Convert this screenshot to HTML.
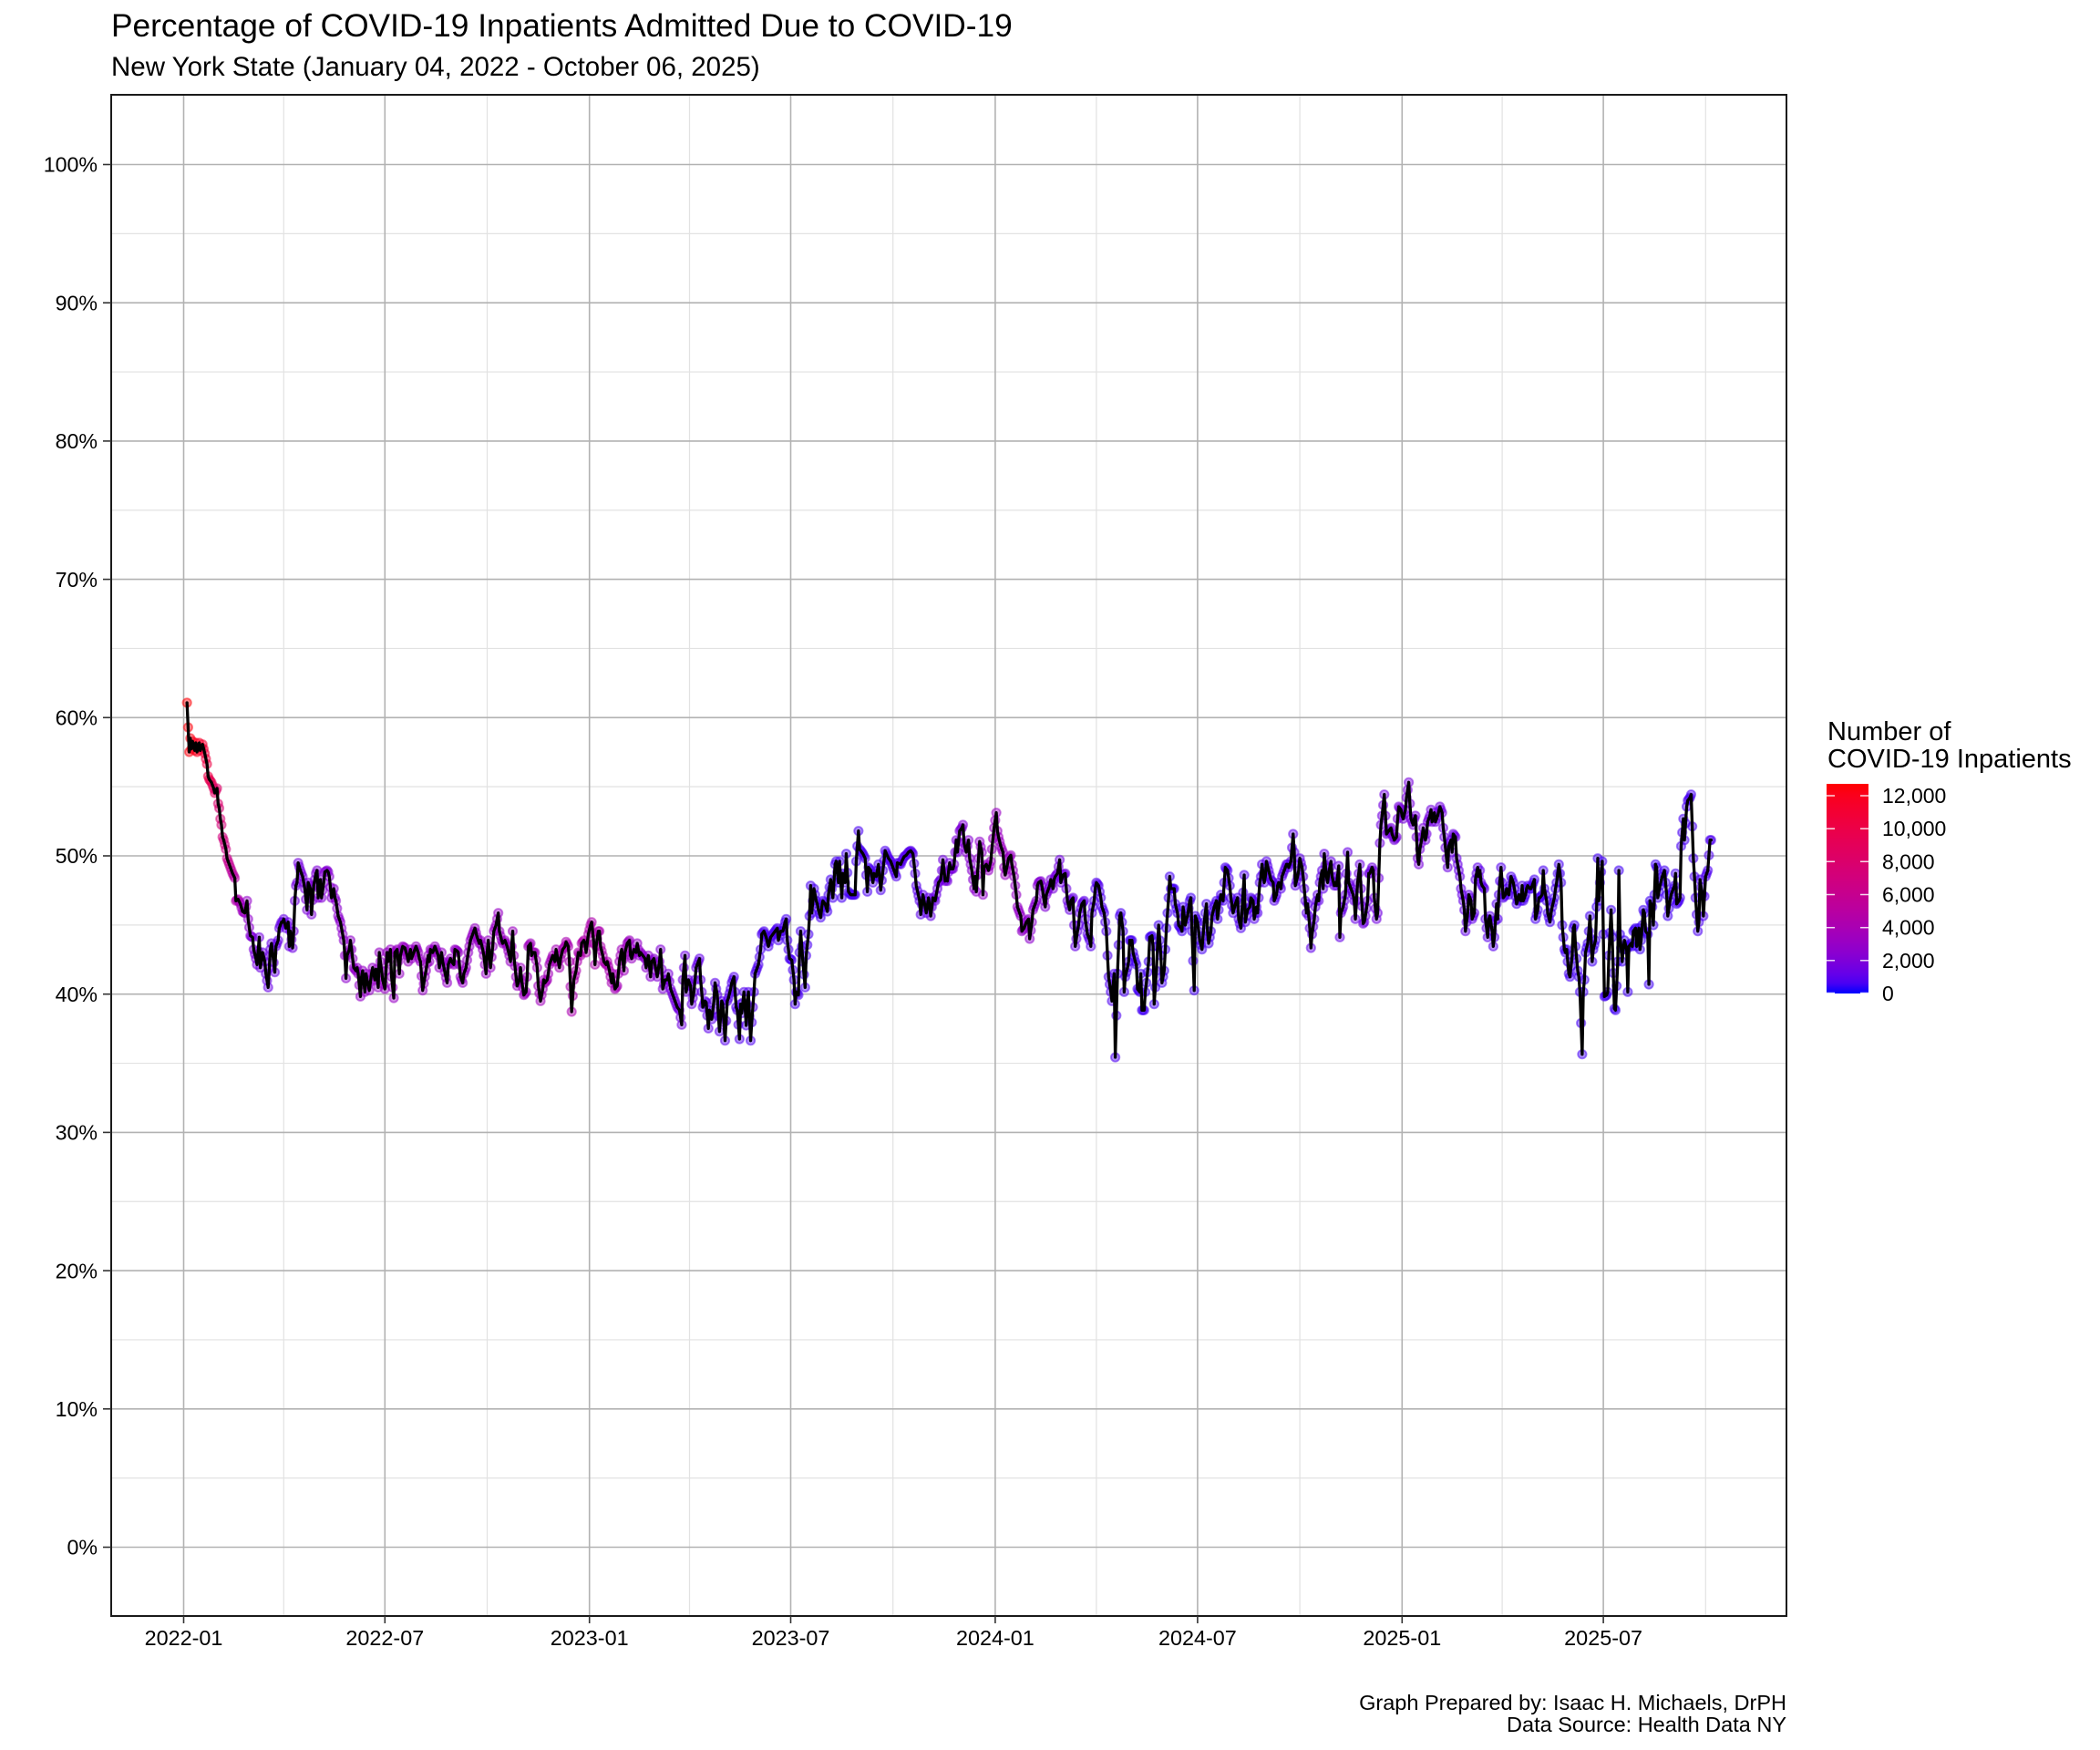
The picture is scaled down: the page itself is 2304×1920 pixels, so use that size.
<!DOCTYPE html>
<html>
<head>
<meta charset="utf-8">
<style>
html,body{margin:0;padding:0;background:#fff;}
svg{display:block;}
text{font-family:"Liberation Sans",Arial,sans-serif;fill:#000;}
</style>
</head>
<body>
<svg id="chart" xmlns="http://www.w3.org/2000/svg" width="2304" height="1920" viewBox="0 0 2304 1920">
<rect x="0" y="0" width="2304" height="1920" fill="#fff"/>
<defs>
<linearGradient id="cbar" x1="0" y1="1" x2="0" y2="0">
<stop offset="0" stop-color="#0000FF"/>
<stop offset="0.25" stop-color="#9A00C3"/>
<stop offset="0.5" stop-color="#CC0088"/>
<stop offset="0.75" stop-color="#E80050"/>
<stop offset="1" stop-color="#FF0000"/>
</linearGradient>
</defs>

<!-- Title -->
<text x="122" y="40" font-size="35.3">Percentage of COVID-19 Inpatients Admitted Due to COVID-19</text>
<text x="122" y="83" font-size="29.5">New York State (January 04, 2022 - October 06, 2025)</text>

<!-- minor gridlines -->
<g stroke="#e2e2e2" stroke-width="1.2">
<line x1="122" x2="1960" y1="1621.65" y2="1621.65"/>
<line x1="122" x2="1960" y1="1469.95" y2="1469.95"/>
<line x1="122" x2="1960" y1="1318.25" y2="1318.25"/>
<line x1="122" x2="1960" y1="1166.55" y2="1166.55"/>
<line x1="122" x2="1960" y1="1014.85" y2="1014.85"/>
<line x1="122" x2="1960" y1="863.15" y2="863.15"/>
<line x1="122" x2="1960" y1="711.45" y2="711.45"/>
<line x1="122" x2="1960" y1="559.75" y2="559.75"/>
<line x1="122" x2="1960" y1="408.05" y2="408.05"/>
<line x1="122" x2="1960" y1="256.35" y2="256.35"/>
<line y1="104" y2="1773" x1="311.3" x2="311.3"/>
<line y1="104" y2="1773" x1="534.5" x2="534.5"/>
<line y1="104" y2="1773" x1="756.5" x2="756.5"/>
<line y1="104" y2="1773" x1="979.7" x2="979.7"/>
<line y1="104" y2="1773" x1="1202.9" x2="1202.9"/>
<line y1="104" y2="1773" x1="1426.1" x2="1426.1"/>
<line y1="104" y2="1773" x1="1648.1" x2="1648.1"/>
<line y1="104" y2="1773" x1="1871.3" x2="1871.3"/>
</g>
<!-- major gridlines -->
<g stroke="#b2b2b2" stroke-width="1.6">
<line x1="122" x2="1960" y1="1697.5" y2="1697.5"/>
<line x1="122" x2="1960" y1="1545.8" y2="1545.8"/>
<line x1="122" x2="1960" y1="1394.1" y2="1394.1"/>
<line x1="122" x2="1960" y1="1242.4" y2="1242.4"/>
<line x1="122" x2="1960" y1="1090.7" y2="1090.7"/>
<line x1="122" x2="1960" y1="939" y2="939"/>
<line x1="122" x2="1960" y1="787.3" y2="787.3"/>
<line x1="122" x2="1960" y1="635.6" y2="635.6"/>
<line x1="122" x2="1960" y1="483.9" y2="483.9"/>
<line x1="122" x2="1960" y1="332.2" y2="332.2"/>
<line x1="122" x2="1960" y1="180.5" y2="180.5"/>
<line y1="104" y2="1773" x1="201.5" x2="201.5"/>
<line y1="104" y2="1773" x1="422.3" x2="422.3"/>
<line y1="104" y2="1773" x1="646.7" x2="646.7"/>
<line y1="104" y2="1773" x1="867.5" x2="867.5"/>
<line y1="104" y2="1773" x1="1091.9" x2="1091.9"/>
<line y1="104" y2="1773" x1="1313.9" x2="1313.9"/>
<line y1="104" y2="1773" x1="1538.3" x2="1538.3"/>
<line y1="104" y2="1773" x1="1759.1" x2="1759.1"/>
</g>

<!-- data -->
<g id="pts"></g>
<polyline id="ln" fill="none" stroke="#000" stroke-width="3.3" stroke-linejoin="round" stroke-linecap="round" points=""/>

<!-- panel border -->
<rect x="122" y="104" width="1838" height="1669" fill="none" stroke="#1a1a1a" stroke-width="2"/>

<!-- ticks -->
<g stroke="#333" stroke-width="1.6">
<line x1="113" x2="122" y1="1697.5" y2="1697.5"/>
<line x1="113" x2="122" y1="1545.8" y2="1545.8"/>
<line x1="113" x2="122" y1="1394.1" y2="1394.1"/>
<line x1="113" x2="122" y1="1242.4" y2="1242.4"/>
<line x1="113" x2="122" y1="1090.7" y2="1090.7"/>
<line x1="113" x2="122" y1="939" y2="939"/>
<line x1="113" x2="122" y1="787.3" y2="787.3"/>
<line x1="113" x2="122" y1="635.6" y2="635.6"/>
<line x1="113" x2="122" y1="483.9" y2="483.9"/>
<line x1="113" x2="122" y1="332.2" y2="332.2"/>
<line x1="113" x2="122" y1="180.5" y2="180.5"/>
<line y1="1773" y2="1781" x1="201.5" x2="201.5"/>
<line y1="1773" y2="1781" x1="422.3" x2="422.3"/>
<line y1="1773" y2="1781" x1="646.7" x2="646.7"/>
<line y1="1773" y2="1781" x1="867.5" x2="867.5"/>
<line y1="1773" y2="1781" x1="1091.9" x2="1091.9"/>
<line y1="1773" y2="1781" x1="1313.9" x2="1313.9"/>
<line y1="1773" y2="1781" x1="1538.3" x2="1538.3"/>
<line y1="1773" y2="1781" x1="1759.1" x2="1759.1"/>
</g>
<g font-size="23.2" text-anchor="end">
<text x="107" y="1705.7">0%</text>
<text x="107" y="1554">10%</text>
<text x="107" y="1402.3">20%</text>
<text x="107" y="1250.6">30%</text>
<text x="107" y="1098.9">40%</text>
<text x="107" y="947.2">50%</text>
<text x="107" y="795.5">60%</text>
<text x="107" y="643.8">70%</text>
<text x="107" y="492.1">80%</text>
<text x="107" y="340.4">90%</text>
<text x="107" y="188.7">100%</text>
</g>
<g font-size="23.4" text-anchor="middle">
<text x="201.5" y="1805">2022-01</text>
<text x="422.3" y="1805">2022-07</text>
<text x="646.7" y="1805">2023-01</text>
<text x="867.5" y="1805">2023-07</text>
<text x="1091.9" y="1805">2024-01</text>
<text x="1313.9" y="1805">2024-07</text>
<text x="1538.3" y="1805">2025-01</text>
<text x="1759.1" y="1805">2025-07</text>
</g>

<!-- caption -->
<g font-size="23.5" text-anchor="end">
<text x="1960" y="1876">Graph Prepared by: Isaac H. Michaels, DrPH</text>
<text x="1960" y="1900">Data Source: Health Data NY</text>
</g>

<!-- legend -->
<text x="2005" y="812" font-size="29">Number of</text>
<text x="2005" y="842" font-size="29">COVID-19 Inpatients</text>
<rect id="cbarRect" x="2004" y="860" width="46" height="230" fill="url(#cbar)"/>
<g stroke="#fff" stroke-width="1.5" opacity="0.85">
<line x1="2004" x2="2013" y1="873" y2="873"/><line x1="2041" x2="2050" y1="873" y2="873"/>
<line x1="2004" x2="2013" y1="909.2" y2="909.2"/><line x1="2041" x2="2050" y1="909.2" y2="909.2"/>
<line x1="2004" x2="2013" y1="945.3" y2="945.3"/><line x1="2041" x2="2050" y1="945.3" y2="945.3"/>
<line x1="2004" x2="2013" y1="981.5" y2="981.5"/><line x1="2041" x2="2050" y1="981.5" y2="981.5"/>
<line x1="2004" x2="2013" y1="1017.7" y2="1017.7"/><line x1="2041" x2="2050" y1="1017.7" y2="1017.7"/>
<line x1="2004" x2="2013" y1="1053.8" y2="1053.8"/><line x1="2041" x2="2050" y1="1053.8" y2="1053.8"/>
<line x1="2004" x2="2013" y1="1089.5" y2="1089.5"/><line x1="2041" x2="2050" y1="1089.5" y2="1089.5"/>
</g>
<g font-size="23">
<text x="2065" y="881">12,000</text>
<text x="2065" y="917.2">10,000</text>
<text x="2065" y="953.3">8,000</text>
<text x="2065" y="989.5">6,000</text>
<text x="2065" y="1025.7">4,000</text>
<text x="2065" y="1061.8">2,000</text>
<text x="2065" y="1098">0</text>
</g>
</svg>

<script>
(function(){
var Z=[
[195,[[33,48],[37,210],[40,165],[45,200],[50,175],[55,205],[60,180],[65,210],[70,180],[75,205],[80,185],[88,215],[95,250],[98,290],[105,300],[112,310],[118,330],[122,345],[128,330],[133,380],[138,395],[140,430],[145,450],[148,490],[153,500],[158,530],[162,560],[168,580],[175,590],[182,610],[188,625],[192,700],[200,695],[205,710],[212,735],[220,740],[228,700],[232,760],[240,815],[245,820],[250,860],[258,890],[262,910],[268,820],[272,920],[278,870],[285,900],[290,940],[297,985],[305,860],[310,840],[318,935],[322,850],[330,830],[335,790],[340,770],[345,770],[350,760],[357,790],[362,770],[367,850],[372,800],[377,855],[380,800],[385,700],[390,650],[393,640],[398,575],[405,600],[410,620],[418,660],[424,730],[430,640],[437,660],[442,745],[448,650],[455,610],[460,600],[464,690],[470,630],[475,690],[480,640],[485,605],[490,600],[495,605],[500,620],[505,690],[512,660],[518,690],[522,700],[528,750],[535,770],[540,790],[545,830],[550,880],[553,955],[558,880],[565,860],[570,830],[575,890],[580,920],[585,930],[590,920],[595,940],[600,1015],[605,950],[610,930],[615,1000],[620,940],[625,960],[632,995],[637,940],[642,920],[648,960],[653,925],[660,985],[664,870],[670,930],[676,960],[683,990],[688,870],[694,900],[700,860],[705,950],[710,1020],[716,870],[722,860],[728,940],[733,880],[740,850],[748,855],[755,880],[760,900],[765,860],[770,890],[778,870],[785,850],[790,870],[795,890],[800,900],[806,995],[812,950],[818,930],[823,880],[828,900],[833,860],[840,870],[848,850]]],
[480,[[3,880],[7,920],[12,870],[18,900],[25,935],[30,970],[35,910],[42,890],[48,900],[52,910],[58,860],[65,865],[70,870],[75,950],[82,970],[88,940],[95,920],[100,870],[105,850],[110,830],[118,800],[123,790],[130,820],[137,840],[142,830],[148,860],[152,880],[158,940],[162,870],[168,830],[175,920],[180,850],[185,800],[192,780],[200,740],[205,800],[210,830],[215,840],[222,830],[228,850],[235,880],[240,900],[248,800],[252,880],[258,950],[263,980],[268,960],[272,920],[278,960],[283,1010],[290,1000],[295,950],[300,850],[305,840],[310,880],[315,870],[322,870],[328,920],[333,980],[338,1030],[345,990],[350,960],[355,970],[360,960],[365,940],[370,910],[378,880],[385,900],[390,860],[395,880],[400,920],[405,890],[412,860],[418,850],[425,835],[430,850],[435,900],[442,1065],[448,960],[455,930],[460,900],[465,870],[470,880],[476,840],[480,830],[486,840],[490,870],[495,810],[502,780],[508,770],[513,840],[518,910],[523,850],[528,800],[532,800],[538,850],[543,880],[548,900],[555,910],[560,900],[566,930],[572,970],[578,940],[584,990],[590,980],[595,940],[600,900],[605,860],[612,930],[618,870],[625,840],[630,830],[635,880],[640,890],[646,860],[652,870],[658,840],[664,880],[670,870],[676,880],[682,890],[688,920],[695,880],[700,950],[706,900],[712,890],[718,930],[723,950],[730,900],[736,860],[742,990],[748,960],[755,960],[760,940],[768,990],[775,1010],[782,1030],[790,1050],[798,1060],[802,1108],[808,960],[814,880],[820,1000],[826,960],[832,980],[838,1040],[845,1000],[852,920]]],
[765,[[3,900],[6,890],[10,960],[15,1000],[20,1050],[25,1030],[30,1035],[37,1120],[42,1060],[48,1090],[55,1030],[60,970],[65,1010],[70,1080],[75,1130],[80,1030],[85,1040],[92,1160],[97,1030],[102,1020],[110,990],[115,970],[122,950],[127,1050],[133,1060],[138,1155],[143,1040],[148,1070],[152,1000],[156,1050],[160,1110],[165,1040],[170,1000],[175,1160],[180,1100],[185,1000],[190,940],[196,920],[203,910],[208,860],[213,810],[220,800],[228,820],[235,850],[240,820],[248,810],[255,800],[262,790],[268,830],[275,800],[282,800],[288,770],[292,760],[297,830],[303,890],[312,895],[318,960],[322,1040],[327,1000],[332,1010],[338,870],[342,800],[348,900],[354,985],[360,880],[365,810],[369,750],[372,650],[378,740],[385,660],[390,700],[395,710],[400,730],[405,755],[410,720],[415,700],[420,710],[428,735],[432,680],[438,630],[445,690],[452,580],[458,570],[463,640],[468,570],[475,690],[480,610],[485,640],[492,545],[498,670],[505,680],[512,680],[518,680],[525,570],[530,470],[535,530],[545,545],[552,560],[560,670],[565,590],[570,600],[578,640],[582,610],[590,620],[598,580],[605,665],[612,600],[620,535],[628,560],[635,570],[640,580],[648,600],[655,620],[660,575],[668,580],[675,570],[680,555],[688,550],[695,540],[702,535],[710,545],[716,610],[722,650],[730,700],[736,745],[742,680],[748,700],[755,740],[762,690],[768,750],[775,690],[782,700],[790,660],[795,640],[800,630],[805,600],[810,565],[815,635],[820,630],[825,635],[830,575],[835,595],[840,595],[845,580],[852,500]]],
[1050,[[3,540],[8,470],[15,460],[20,450],[25,510],[30,540],[36,500],[42,560],[48,600],[55,660],[60,620],[65,670],[70,560],[76,505],[80,540],[85,680],[90,590],[95,580],[100,590],[105,600],[110,570],[115,530],[122,460],[128,410],[133,470],[138,490],[145,520],[150,540],[155,590],[160,615],[165,580],[170,560],[178,550],[182,580],[188,620],[195,680],[200,720],[205,740],[210,750],[215,800],[222,790],[228,770],[235,760],[240,825],[245,770],[250,730],[255,720],[260,700],[265,650],[270,640],[275,635],[280,650],[285,700],[290,720],[295,680],[300,660],[305,650],[310,630],[315,660],[320,630],[325,620],[330,610],[338,565],[342,640],[348,615],[355,610],[360,660],[365,700],[370,730],[375,700],[380,690],[385,780],[390,850],[395,800],[400,780],[405,740],[410,710],[418,700],[422,760],[428,810],[435,830],[440,850],[445,740],[450,700],[455,660],[460,640],[465,650],[472,690],[478,720],[485,740],[490,800],[495,880],[500,950],[505,1000],[510,1030],[515,980],[518,940],[522,1215],[528,940],[535,750],[540,740],[545,800],[548,1000],[555,950],[560,920],[565,900],[570,830],[575,830],[580,870],[585,900],[590,910],[595,990],[600,1000],[605,940],[610,1060],[615,1060],[620,1000],[625,970],[630,900],[635,820],[640,815],[645,850],[650,1040],[655,930],[660,850],[665,780],[670,880],[675,970],[680,930],[688,790],[695,690],[700,620],[705,660],[710,660],[715,660],[720,710],[725,740],[730,780],[735,790],[740,800],[745,720],[750,780],[755,760],[760,750],[765,700],[770,690],[775,800],[779,995],[785,750],[790,770],[795,800],[800,830],[808,860],[815,770],[820,710],[825,800],[830,840],[835,800],[840,750],[845,720],[852,700]]],
[1335,[[3,760],[6,730],[10,700],[15,680],[20,700],[25,640],[28,590],[35,600],[42,650],[48,690],[55,740],[62,710],[68,690],[72,760],[78,790],[83,730],[90,615],[95,770],[100,730],[107,720],[112,690],[118,700],[124,760],[130,720],[136,740],[140,640],[145,620],[150,580],[155,640],[160,620],[165,570],[170,600],[178,630],[184,640],[190,700],[195,680],[200,650],[205,640],[210,660],[215,620],[222,600],[228,580],[232,580],[238,590],[244,570],[250,480],[255,540],[260,650],[265,620],[270,600],[275,560],[280,590],[285,620],[290,700],[295,740],[300,710],[305,790],[310,855],[315,810],[320,760],[325,720],[330,680],[335,700],[340,640],[345,600],[350,660],[355,545],[360,620],[365,640],[370,610],[375,570],[380,620],[385,650],[390,640],[395,650],[400,585],[405,820],[410,740],[415,720],[420,700],[425,680],[430,540],[435,640],[440,660],[448,680],[453,700],[458,760],[465,640],[470,580],[475,660],[480,775],[485,770],[490,750],[495,700],[500,610],[505,610],[510,590],[515,600],[520,690],[525,760],[530,740],[535,510],[540,450],[545,420],[550,350],[555,420],[560,480],[565,470],[572,460],[578,480],[585,500],[590,490],[596,430],[600,390],[605,400],[610,420],[615,430],[620,400],[625,360],[630,310],[635,380],[640,430],[645,450],[650,430],[655,420],[660,560],[665,580],[670,530],[675,490],[680,460],[686,500],[690,480],[695,440],[700,420],[705,400],[710,440],[715,410],[720,440],[728,420],[735,390],[740,410],[745,460],[750,490],[755,560],[760,590],[765,520],[770,500],[775,540],[780,480],[786,490],[790,560],[795,600],[800,620],[805,660],[810,700],[815,730],[820,800],[825,740],[830,680],[835,700],[840,760],[848,740],[852,630]]],
[1620,[[3,590],[5,620],[10,600],[15,640],[20,650],[25,660],[30,760],[35,820],[40,760],[45,750],[50,800],[55,850],[60,820],[65,710],[70,760],[75,680],[82,590],[88,690],[95,680],[100,660],[105,680],[110,650],[115,620],[120,640],[125,660],[130,710],[135,700],[140,680],[145,700],[150,650],[155,700],[160,680],[165,660],[170,650],[175,660],[180,660],[185,640],[190,630],[195,760],[200,730],[205,690],[210,690],[215,680],[220,600],[225,660],[230,700],[235,740],[240,770],[245,740],[250,720],[255,690],[260,660],[265,640],[272,580],[278,640],[283,780],[288,860],[293,870],[298,860],[303,940],[308,950],[313,880],[318,790],[322,780],[327,850],[332,930],[337,950],[342,1000],[346,1205],[350,1000],[355,960],[360,870],[365,840],[370,800],[375,750],[380,900],[385,860],[390,830],[395,720],[398,560],[403,700],[408,640],[412,570],[418,810],[422,1015],[428,1010],[433,1000],[437,880],[442,730],[447,820],[452,1055],[458,1060],[463,900],[468,600],[473,810],[478,900],[484,860],[488,830],[493,860],[498,1000],[502,850],[508,840],[512,850],[517,800],[522,790],[528,850],[533,790],[538,860],[543,830],[548,730],[553,740],[558,800],[563,810],[567,975],[572,700],[577,720],[582,780],[588,580],[593,590],[598,690],[603,650],[610,620],[618,600],[624,680],[630,750],[636,700],[642,680],[650,650],[655,610],[660,710],[665,700],[670,690],[675,520],[680,430],[686,500],[692,390],[697,370],[702,360],[707,350],[712,560],[717,620],[722,690],[727,800],[732,770],[737,630],[742,680],[747,750],[752,620],[760,600],[770,500]]]
];
var V=[];
Z.forEach(function(s){var x0=s[0];s[1].forEach(function(p){V.push([x0+p[0]/3,755+p[1]/3]);});});
V.sort(function(a,b){return a[0]-b[0];});
var val={},last=-1;
V.forEach(function(p){
  var d=Math.round((p[0]-201.5)/1.2197);
  if(last<0) d=3;
  if(d<=last) d=last+1;
  if(d>1374) d=1374;
  val[d]=p[1]; last=d;
});
var days=Object.keys(val).map(Number).sort(function(a,b){return a-b;});
var Y=[];
for(var i=0;i<days.length-1;i++){
  var d1=days[i],d2=days[i+1];
  for(var d=d1;d<d2;d++) Y[d]=val[d1]+(val[d2]-val[d1])*(d-d1)/(d2-d1);
}
var lastD=days[days.length-1];
Y[lastD]=val[lastD];
for(var d=lastD+1;d<=1374;d++) Y[d]=val[lastD];

var C=[[3,12600],[8,12200],[15,11500],[22,10000],[30,8200],[38,6500],[46,4800],[54,3300],[62,2000],[72,1300],[90,1200],[110,1800],[135,2400],[160,2900],[200,3100],[240,2900],[290,3100],[330,3700],[360,4400],[380,4200],[410,2800],[440,1700],[470,1000],[520,650],[600,550],[660,900],[700,2000],[725,3100],[740,3300],[760,2600],[790,1500],[820,800],[860,500],[920,550],[980,900],[1040,1200],[1090,1700],[1110,1800],[1150,1200],[1200,650],[1260,500],[1320,450],[1374,700]];
function cnt(d){
  if(d<=C[0][0]) return C[0][1];
  for(var i=1;i<C.length;i++){ if(C[i][0]>=d){ var a=C[i-1],b=C[i]; return a[1]+(b[1]-a[1])*(d-a[0])/(b[0]-a[0]); } }
  return C[C.length-1][1];
}
var LB=[32.30,79.19,-107.86], LR=[53.24,80.09,67.20];
function col(f){
  f=Math.max(0,Math.min(1,f));
  var L=LB[0]+(LR[0]-LB[0])*f, A=LB[1]+(LR[1]-LB[1])*f, B=LB[2]+(LR[2]-LB[2])*f;
  var fy=(L+16)/116, fx=fy+A/500, fz=fy-B/200;
  function fi(t){var t3=t*t*t; return t3>0.008856?t3:(t-16/116)/7.787;}
  var X=0.95047*fi(fx), Yv=fi(fy), Zv=1.08883*fi(fz);
  var r=3.2406*X-1.5372*Yv-0.4986*Zv, g=-0.9689*X+1.8758*Yv+0.0415*Zv, bl=0.0557*X-0.2040*Yv+1.0570*Zv;
  function c(v){v=Math.max(0,Math.min(1,v)); v=v<=0.0031308?12.92*v:1.055*Math.pow(v,1/2.4)-0.055; return Math.round(v*255);}
  return 'rgb('+c(r)+','+c(g)+','+c(bl)+')';
}
var NS='http://www.w3.org/2000/svg';
var g=document.getElementById('pts');
var ptsStr=[];
for(var d=3;d<=1374;d++){
  var x=201.5+1.2197*d, y=Y[d];
  if(y===undefined) continue;
  var cc=col(cnt(d)/12720);
  var ci=document.createElementNS(NS,'circle');
  ci.setAttribute('cx',x.toFixed(2));
  ci.setAttribute('cy',y.toFixed(2));
  ci.setAttribute('r','4.7');
  ci.setAttribute('fill',cc);
  ci.setAttribute('fill-opacity','0.45');
  ci.setAttribute('stroke',cc);
  ci.setAttribute('stroke-opacity','0.5');
  ci.setAttribute('stroke-width','1.8');
  g.appendChild(ci);
  ptsStr.push(x.toFixed(2)+','+y.toFixed(2));
}
document.getElementById('ln').setAttribute('points',ptsStr.join(' '));
var grad=document.getElementById('cbar');
while(grad.firstChild) grad.removeChild(grad.firstChild);
for(var k=0;k<=20;k++){
  var st=document.createElementNS(NS,'stop');
  st.setAttribute('offset',(k/20).toFixed(3));
  st.setAttribute('stop-color',col(k/20));
  grad.appendChild(st);
}
})();
</script>
</body>
</html>
